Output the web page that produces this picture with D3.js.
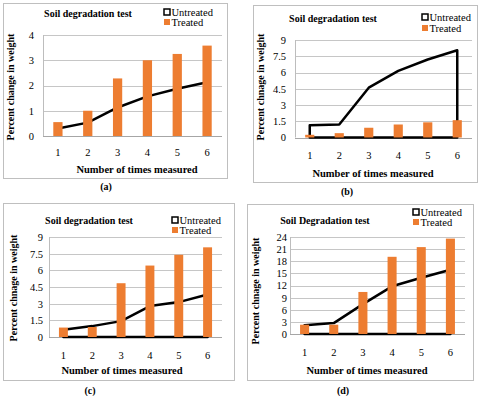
<!DOCTYPE html>
<html>
<head>
<meta charset="utf-8">
<script src="https://cdn.jsdelivr.net/npm/d3@7/dist/d3.min.js"></script>
<style>
  body { margin: 0; background: #fff; }
  text { font-family: "Liberation Serif", "Times New Roman", serif; fill: #000; }
</style>
</head>
<body>
<div id="chart"></div>
<script>
// data
const categories = [1, 2, 3, 4, 5, 6];

const untreatedA = [0.3, 0.53, 1.13, 1.57, 1.87, 2.13];
const treatedA = [0.55, 1.0, 2.28, 3.0, 3.25, 3.58];
const ticksA = [0, 1, 2, 3, 4];

const untreatedB = [1.12, 1.2, 4.6, 6.15, 7.2, 8.05];
const treatedB = [0.25, 0.4, 0.9, 1.2, 1.4, 1.6];
const ticksB = [0, 1.5, 3, 4.5, 6, 7.5, 9];

const untreatedC = [0.65, 0.98, 1.43, 2.78, 3.14, 3.82];
const treatedC = [0.85, 0.9, 4.84, 6.43, 7.4, 8.07];
const ticksC = [0, 1.5, 3, 4.5, 6, 7.5, 9];

const untreatedD = [2.15, 2.7, 7.4, 11.8, 13.9, 15.9];
const treatedD = [2.3, 2.3, 10.4, 19.1, 21.5, 23.6];
const ticksD = [0, 3, 6, 9, 12, 15, 18, 21, 24];

const orange = '#ED7D31';

const svg = d3.select('#chart').append('svg')
    .attr('width', 480)
    .attr('height', 396);

/* one panel: frame, grid, area outline, bars, labels */
function drawPanel(p) {
  let g = svg.append('g');

  // outer frame
  g.append('rect')
      .attr('x', p.frame[0] + 0.5).attr('y', p.frame[1] + 0.5)
      .attr('width', p.frame[2]).attr('height', p.frame[3])
      .attr('fill', 'none').attr('stroke', '#bfbfbf');

  let x = d3.scaleBand()
      .domain(p.categories)
      .range([p.plot.l, p.plot.r]);
  let y = d3.scaleLinear()
      .domain([0, d3.max(p.ticks)])
      .range([p.plot.b, p.plot.t]);

  // gridlines
  g.selectAll('.grid')
      .data(p.ticks.slice(1))
      .join('line')
      .attr('x1', p.plot.l).attr('x2', p.plot.r)
      .attr('y1', d => Math.round(y(d)) + 0.5).attr('y2', d => Math.round(y(d)) + 0.5)
      .attr('stroke', '#c6c6c6');
  g.append('line')
      .attr('x1', p.plot.l + 0.5).attr('x2', p.plot.l + 0.5)
      .attr('y1', p.plot.t).attr('y2', p.plot.b)
      .attr('stroke', '#bdbdbd');
  g.append('line')
      .attr('x1', p.plot.l).attr('x2', p.plot.r)
      .attr('y1', Math.round(y(0)) + 0.5).attr('y2', Math.round(y(0)) + 0.5)
      .attr('stroke', '#a6a6a6');

  // untreated: outlined area, no fill
  let pts = p.categories.map((c, i) => [x(c) + x.bandwidth() / 2, y(p.untreated[i])]);
  let outline = [[pts[0][0], y(0)], ...pts, [pts[pts.length - 1][0], y(0)]];
  g.append('path')
      .attr('d', d3.line()(outline) + (p.closed ? 'Z' : ''))
      .attr('fill', 'none')
      .attr('stroke', '#000')
      .attr('stroke-width', 2.5)
      .attr('stroke-linejoin', 'round');

  // treated bars
  let bw = x.bandwidth() * 0.31;
  g.selectAll('.bar')
      .data(p.treated)
      .join('rect')
      .attr('x', (d, i) => x(p.categories[i]) + x.bandwidth() / 2 - bw / 2)
      .attr('y', d => y(d))
      .attr('width', bw)
      .attr('height', d => y(0) - y(d))
      .attr('fill', orange);

  // axes (labels only)
  let yAxis = g.append('g')
      .attr('transform', `translate(${p.plot.l},0)`)
      .call(d3.axisLeft(y).tickValues(p.ticks).tickSize(0).tickPadding(p.yPad).tickFormat(d => String(d)));
  yAxis.select('.domain').remove();
  yAxis.selectAll('text').style('font-size', '10.5px').style('font-family', null);

  let xAxis = g.append('g')
      .attr('transform', `translate(0,${p.xLabelY})`)
      .call(d3.axisBottom(x).tickSize(0).tickPadding(0));
  xAxis.select('.domain').remove();
  xAxis.selectAll('text').attr('dy', '0.35em').attr('y', 0).style('font-size', '10.5px').style('font-family', null);

  // titles
  g.append('text')
      .attr('x', p.title[0]).attr('y', p.title[1])
      .attr('text-anchor', 'middle').attr('dy', '0.35em')
      .style('font-size', '10px').style('font-weight', 'bold')
      .text(p.titleText);
  g.append('text')
      .attr('transform', `translate(${p.yTitle[0]},${p.yTitle[1]}) rotate(-90)`)
      .attr('text-anchor', 'middle').attr('dy', '0.35em')
      .style('font-size', '10px').style('font-weight', 'bold')
      .text(p.yTitleText);
  g.append('text')
      .attr('x', p.xTitle[0]).attr('y', p.xTitle[1])
      .attr('text-anchor', 'middle').attr('dy', '0.35em')
      .style('font-size', '10.5px').style('font-weight', 'bold')
      .text('Number of times measured');
  g.append('text')
      .attr('x', p.caption[0]).attr('y', p.caption[1])
      .attr('text-anchor', 'middle').attr('dy', '0.35em')
      .style('font-size', '10px').style('font-weight', 'bold')
      .text(p.captionText);

  // legend
  let lx = p.legend[0], ly = p.legend[1];
  g.append('rect')
      .attr('x', lx - 3).attr('y', ly - 3)
      .attr('width', 6).attr('height', 6)
      .attr('fill', 'none').attr('stroke', '#000').attr('stroke-width', 1.5);
  g.append('rect')
      .attr('x', lx - 3).attr('y', ly + p.legendGap - 3)
      .attr('width', 6).attr('height', 6)
      .attr('fill', orange);
  g.append('text')
      .attr('x', lx + 4.5).attr('y', ly).attr('dy', '0.35em')
      .style('font-size', '10.5px')
      .text('Untreated');
  g.append('text')
      .attr('x', lx + 4.5).attr('y', ly + p.legendGap).attr('dy', '0.35em')
      .style('font-size', '10.5px')
      .text('Treated');
}

drawPanel({
  categories: categories, untreated: untreatedA, treated: treatedA, ticks: ticksA,
  closed: false,
  frame: [3, 3, 224, 175],
  plot: { l: 43, r: 222, t: 35, b: 136 },
  yPad: 9, xLabelY: 152,
  title: [88, 13], titleText: 'Soil degradation test',
  yTitle: [10, 87], yTitleText: 'Percent change in weight',
  xTitle: [137, 169],
  caption: [106, 186], captionText: '(a)',
  legend: [167, 12], legendGap: 10,
});

drawPanel({
  categories: categories, untreated: untreatedB, treated: treatedB, ticks: ticksB,
  closed: true,
  frame: [253, 5, 224, 177],
  plot: { l: 295, r: 472, t: 40, b: 137.5 },
  yPad: 9, xLabelY: 155,
  title: [333, 18], titleText: 'Soil degradation test',
  yTitle: [260, 87], yTitleText: 'Percent chnage in weight',
  xTitle: [373, 173],
  caption: [347, 191], captionText: '(b)',
  legend: [425, 17], legendGap: 11,
});

drawPanel({
  categories: categories, untreated: untreatedC, treated: treatedC, ticks: ticksC,
  closed: true,
  frame: [3, 203, 231, 177],
  plot: { l: 49, r: 222, t: 237, b: 337 },
  yPad: 6, xLabelY: 355,
  title: [89, 220], titleText: 'Soil degradation test',
  yTitle: [13, 288], yTitleText: 'Percent chnage in weight',
  xTitle: [122, 370],
  caption: [90, 390], captionText: '(c)',
  legend: [175, 220], legendGap: 10,
});

drawPanel({
  categories: categories, untreated: untreatedD, treated: treatedD, ticks: ticksD,
  closed: true,
  frame: [247, 204, 226, 176],
  plot: { l: 290, r: 465, t: 237, b: 334 },
  yPad: 3, xLabelY: 352,
  title: [325, 220], titleText: 'Soil Degradation test',
  yTitle: [255, 291], yTitleText: 'Percent chnage in weight',
  xTitle: [367, 370],
  caption: [343, 390], captionText: '(d)',
  legend: [416, 212], legendGap: 10,
});
</script>
</body>
</html>
